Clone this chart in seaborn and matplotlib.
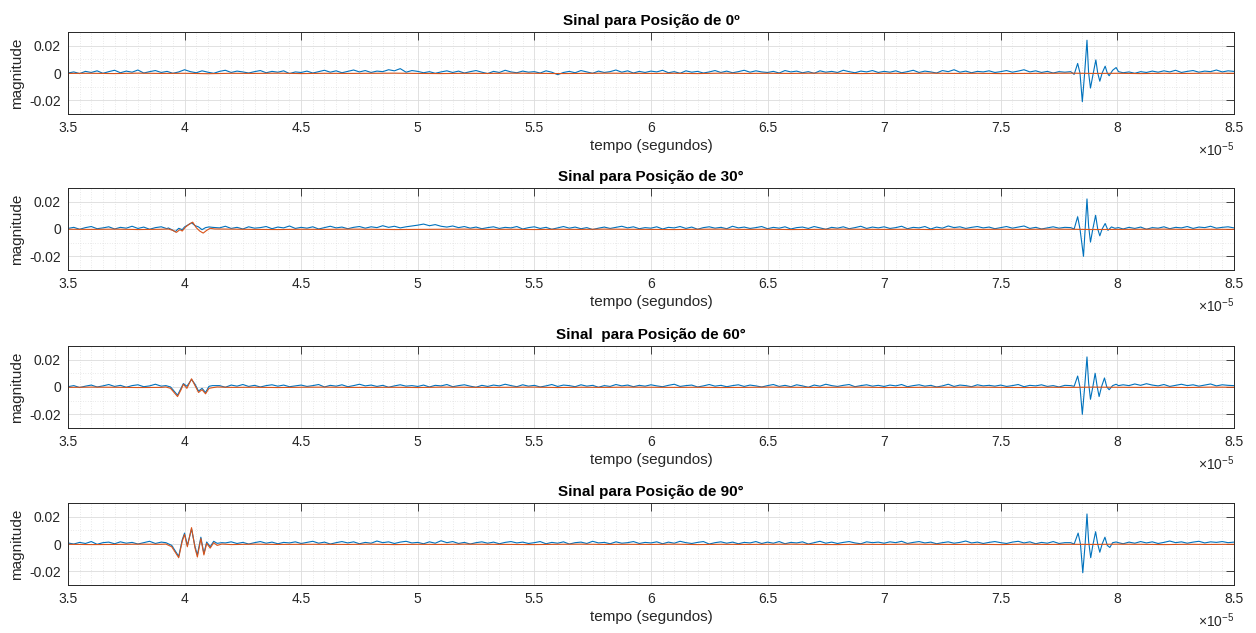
import numpy as np
import pandas as pd
import matplotlib
matplotlib.use("Agg")
import matplotlib.pyplot as plt
import seaborn as sns
from matplotlib.ticker import MultipleLocator, FormatStrFormatter

# ---------------- data ----------------
titles = ["Sinal para Posição de 0º", "Sinal para Posição de 30°",
          "Sinal  para Posição de 60°", "Sinal para Posição de 90°"]
xlabel = "tempo (segundos)"
ylabel = "magnitude"
x_ticks = [3.5, 4, 4.5, 5, 5.5, 6, 6.5, 7, 7.5, 8, 8.5]
y_ticks = [-0.02, 0, 0.02]

# blue noise, units of 2e-4 around an offset of 4 units, evenly spaced over 3.5..8.5 (x1e-5 s)
noise_unit = 2e-4
noise_offset = 4
blue_noise_1 = [4, 8, 2, 10, 6, 12, 3, 9, 14, 5, 11, 7, 15, 4, 9, 13, 6, 10, 3, 8,
                16, 9, 5, 12, 7, 3, 10, 14, 6, 11, 8, 4, 9, 13, 5, 10, 7, 12, 2, 8,
                6, 11, 4, 9, 14, 7, 12, 5, 10, 15, 8, 13, 6, 11, 9, 16, 12, 20, 7, 13,
                10, 5, 9, 3, 8, 12, 6, 11, 4, 9, 13, 7, 2, 10, 6, 14, 8, 5, 11, 7,
                9, 4, 12, 7, -2, 6, 10, 5, 13, 8, 3, 11, 6, 9, 15, 7, 12, 4, 10, 6,
                11, 8, 14, 5, 9, 3, 12, 7, 10, 4, 8, 13, 6, 11, 5, 9, 14, 7, 12, 8,
                6, 10, 4, 13, 8, 11, 5, 9, 3, 12, 7, 10, 6, 14, 9, 5, 11, 8, 13, 6,
                10, 7, 12, 5, 9, 14, 6, 11, 8, 4, 13, 9, 16, 7, 11, 5, 10, 8, 12, 6,
                9, 13, 7, 11, 16, 8, 12, 6, 10, 4, 9, 7, 3, 8, 5, 0, 0, 0, 0, 0,
                10, 5, 8, 3, 9, 6, 11, 7, 12, 8, 14, 6, 10, 13, 7, 11, 9, 15, 8, 12,
                10]
blue_noise_2 = [6, 10, 3, 9, 13, 5, 8, 12, 4, 10, 7, 14, 6, 11, 3, 9, 12, 5, 8, 4,
                7, 10, 5, 9, 3, 11, 8, 14, 6, 10, 4, 12, 7, 9, 13, 5, 11, 8, 15, 6,
                10, 7, 12, 4, 9, 14, 8, 11, 5, 10, 13, 7, 12, 9, 16, 10, 14, 8, 12, 15,
                18, 22, 16, 20, 14, 11, 15, 9, 13, 7, 11, 5, 9, 12, 6, 10, 8, 13, 4, 9,
                12, 6, 10, 3, 8, 13, 7, 11, 5, 9, 2, 7, 11, 6, 10, 14, 8, 12, 5, 9,
                7, 12, 4, 10, 8, 13, 6, 11, 3, 9, 12, 7, 10, 5, 14, 8, 11, 6, 9, 13,
                5, 10, 7, 12, 4, 9, 11, 6, 13, 8, 3, 10, 7, 12, 5, 9, 14, 6, 11, 8,
                12, 6, 9, 14, 5, 10, 8, 13, 4, 11, 7, 15, 9, 12, 6, 10, 13, 8, 11, 5,
                9, 13, 7, 11, 15, 6, 10, 4, 8, 12, 7, 10, 5, 9, 6, 0, 0, 0, 0, 0,
                8, 4, 10, 6, 11, 3, 9, 7, 12, 5, 10, 8, 13, 6, 11, 9, 14, 7, 10, 12,
                8]
blue_noise_3 = [5, 9, 2, 7, 11, 4, 8, 13, 6, 10, 3, 9, 12, 5, 8, 14, 7, 10, 4, 8,
                10, 6, 12, 8, 14, 5, 9, 3, 11, 7, 13, 6, 10, 4, 9, 12, 7, 11, 5, 8,
                11, 6, 9, 13, 4, 10, 7, 12, 5, 9, 14, 8, 11, 6, 10, 3, 8, 12, 7, 9,
                6, 11, 4, 10, 8, 13, 5, 9, 12, 7, 3, 10, 6, 11, 8, 14, 9, 5, 12, 7,
                10, 4, 8, 13, 6, 11, 9, 5, 12, 7, 10, 3, 9, 6, 13, 8, 11, 5, 10, 7,
                12, 8, 5, 10, 14, 6, 9, 11, 4, 8, 13, 7, 10, 5, 9, 12, 6, 11, 8, 4,
                9, 13, 6, 10, 5, 12, 8, 3, 11, 7, 14, 9, 6, 10, 13, 5, 9, 12, 7, 10,
                6, 11, 8, 13, 5, 9, 12, 7, 10, 4, 8, 14, 6, 11, 9, 5, 12, 8, 10, 7,
                11, 6, 9, 13, 5, 10, 8, 12, 6, 9, 4, 10, 7, 11, 6, 0, 0, 0, 0, 0,
                7, 12, 9, 15, 10, 16, 11, 8, 13, 6, 10, 14, 9, 12, 7, 11, 15, 8, 12, 10,
                9]
blue_noise_4 = [8, 4, 10, 6, 13, 3, 9, 11, 5, 12, 7, 10, 4, 9, 14, 6, 11, 8, 5, 9,
                0, 0, 0, 0, 0, 0, 0, 8, 12, 6, 10, 4, 9, 13, 7, 11, 5, 10, 8, 12,
                6, 10, 14, 7, 11, 4, 9, 13, 8, 12, 5, 10, 7, 15, 9, 12, 6, 11, 14, 8,
                10, 5, 12, 7, 16, 9, 13, 6, 10, 4, 9, 12, 7, 11, 5, 10, 13, 8, 11, 6,
                9, 13, 5, 10, 7, 12, 4, 9, 11, 6, 14, 8, 10, 5, 12, 7, 9, 13, 6, 10,
                8, 12, 5, 11, 7, 14, 9, 6, 10, 13, 4, 9, 12, 7, 11, 5, 10, 8, 13, 6,
                11, 7, 13, 5, 10, 8, 12, 4, 9, 14, 7, 11, 6, 10, 13, 8, 5, 12, 9, 11,
                7, 12, 9, 14, 6, 10, 13, 8, 11, 5, 9, 12, 7, 10, 15, 8, 11, 6, 10, 13,
                9, 6, 11, 14, 8, 12, 5, 10, 7, 13, 6, 9, 4, 8, 5, 0, 0, 0, 0, 0,
                9, 5, 11, 7, 13, 8, 12, 6, 10, 15, 9, 12, 7, 11, 14, 8, 12, 10, 13, 9,
                11]

# orange baseline, units of 1e-4, evenly spaced over 3.5..8.5
orange_base_1 = [-3, -2, -4, -1, -3, -2, -5, -2, -3, -1, -4, -2, -3, -2, -1, -3, -4,
                 -2, -3, -1, -2, -4, -3, -1, -2, -3, -2, -4, -1, -3, -2, -3, -1, -2,
                 -4, -2, -3, -1, -3, -2, -4, -3, -2, -1, -3, -2, -4, -2, -3, -1, -2]
orange_base_2 = [-2, -3, -1, -4, -2, -3, -2, -1, -3, -4, -2, -3, -1, -2, -4, -3, -2,
                 -1, -3, -2, -4, -2, -3, -1, -2, -3, -4, -2, -1, -3, -2, -4, -3, -1,
                 -2, -3, -2, -4, -1, -3, -2, -3, -1, -2, -4, -3, -2, -1, -3, -2, -3]
orange_base_3 = [-3, -1, -2, -4, -3, -2, -1, -3, -2, -4, -2, -1, -3, -3, -2, -4, -1,
                 -2, -3, -2, -1, -4, -2, -3, -1, -2, -3, -2, -4, -3, -1, -2, -3, -2,
                 -1, -4, -3, -2, -2, -1, -3, -4, -2, -3, -1, -2, -3, -2, -4, -1, -2]
orange_base_4 = [-2, -4, -3, -1, -2, -3, -2, -4, -1, -3, -2, -2, -3, -1, -4, -2, -3,
                 -1, -2, -3, -4, -2, -1, -3, -2, -3, -1, -4, -2, -3, -2, -1, -3, -4,
                 -2, -3, -1, -2, -3, -2, -4, -1, -3, -2, -3, -1, -2, -4, -2, -3, -2]

# early burst (around 4e-5 s), values in 1e-3
early_t_2 = [3.93, 3.945, 3.96, 3.975, 3.99, 4.0, 4.015, 4.03, 4.045, 4.06, 4.075, 4.09, 4.105, 4.12, 4.135]
early_blue_2 = [0.8, -0.5, -2, 0.5, -0.5, 1.5, 3, 4.5, 2.5, 1.5, -0.5, 1, 1.5, 1.2, 1.0]
early_orange_t_2 = [3.93, 3.95, 3.965, 3.98, 3.99, 4.005, 4.02, 4.035, 4.05, 4.065, 4.08, 4.095, 4.11, 4.13]
early_orange_2 = [0, -1.0, -2.5, -0.5, -1.5, 1.5, 3.5, 5, 1, -1.5, -3, -1, 0.5, 0]

early_t_3 = [3.92, 3.94, 3.955, 3.97, 3.985, 3.995, 4.01, 4.03, 4.045, 4.06, 4.075, 4.09, 4.105, 4.12, 4.14]
early_blue_3 = [1, 0, -3, -6, -1, 2.5, 0.5, 5.5, 2, -3, -1, -4, 0.5, 1, 1]
early_orange_3 = [0, -1, -4, -7, -2, 2, -1, 6, 1, -4, -2, -5, -1, -0.5, 0]

early_t_4 = [3.92, 3.945, 3.96, 3.975, 3.99, 4.0, 4.012, 4.03, 4.045, 4.055, 4.07, 4.083, 4.095, 4.11, 4.125, 4.14, 4.16]
early_blue_4 = [1, -1, -5, -9, 3, 8, -1, 11, -2, -8, 5, -7, 1.5, -2, 2, 0.5, 1]
early_orange_4 = [0, -2, -6, -10, 2, 7, -2, 12, -3, -9.5, 4, -8, 0.5, -3, 1, -1, 0]

# late burst (around 7.85e-5 s), values in 1e-3
late_t_1 = [7.80, 7.815, 7.83, 7.84, 7.85, 7.86, 7.87, 7.877, 7.885, 7.897, 7.908, 7.916, 7.925, 7.935, 7.948, 7.957, 7.965, 7.98, 7.995, 8.005]
late_blue_1 = [1, -1, 7, 0, -21, 0, 24, 0, -11, 0, 9.6, 0, -6, 0, 5, 0, -2, 2, 4, 1]
late_t_2 = [7.80, 7.815, 7.83, 7.84, 7.855, 7.862, 7.87, 7.877, 7.885, 7.895, 7.907, 7.916, 7.925, 7.935, 7.948, 7.96, 7.975, 7.99, 8.005]
late_blue_2 = [1, 0, 9, 0, -20, 0, 22, 2, -9.6, 0, 10, 0, -5, 0, 4, -1, 1.5, 0.5, 1]
late_t_3 = [7.80, 7.815, 7.83, 7.84, 7.85, 7.86, 7.87, 7.877, 7.885, 7.895, 7.905, 7.914, 7.922, 7.932, 7.945, 7.955, 7.965, 7.98, 7.995, 8.005]
late_blue_3 = [1, 0.5, 8, 0, -20, 0, 22, 3, -9, 0, 10, 0, -7, 0, 6.6, 0, -2, 1, 2, 1]
late_t_4 = [7.80, 7.815, 7.832, 7.842, 7.852, 7.862, 7.87, 7.877, 7.886, 7.896, 7.907, 7.916, 7.925, 7.935, 7.947, 7.957, 7.968, 7.98, 7.995, 8.005]
late_blue_4 = [1, 0, 8, 0, -21, 0, 22, 2, -10, 0, 9, 0, -6, 0, 5, -1, -2.5, 1, 1.5, 1]

blue_color = "#0072BD"
orange_color = "#D95319"


def merge(base_t, base_v, windows):
    t = np.asarray(base_t, dtype=float)
    v = np.asarray(base_v, dtype=float)
    for wt, wv in windows:
        wt = np.asarray(wt, dtype=float)
        wv = np.asarray(wv, dtype=float)
        keep = (t < wt[0]) | (t > wt[-1])
        t = np.concatenate([t[keep], wt])
        v = np.concatenate([v[keep], wv])
    order = np.argsort(t, kind="stable")
    return t[order], v[order]


def grid_for(vals):
    return np.linspace(3.5, 8.5, len(vals))


panels = [
    (blue_noise_1, [(late_t_1, late_blue_1)], orange_base_1, []),
    (blue_noise_2, [(early_t_2, early_blue_2), (late_t_2, late_blue_2)],
     orange_base_2, [(early_orange_t_2, early_orange_2)]),
    (blue_noise_3, [(early_t_3, early_blue_3), (late_t_3, late_blue_3)],
     orange_base_3, [(early_t_3, early_orange_3)]),
    (blue_noise_4, [(early_t_4, early_blue_4), (late_t_4, late_blue_4)],
     orange_base_4, [(early_t_4, early_orange_4)]),
]

# ---------------- style ----------------
sns.set_style("white")
plt.rcParams["font.family"] = ["Liberation Sans", "DejaVu Sans"]
plt.rcParams["axes.unicode_minus"] = False
plt.rcParams["mathtext.fontset"] = "custom"
plt.rcParams["mathtext.rm"] = "Liberation Sans"
plt.rcParams["mathtext.it"] = "Liberation Sans:italic"

fig = plt.figure(figsize=(12.56, 6.33), dpi=100)
fig.patch.set_facecolor("white")

left, width, height = 0.0541, 0.9283, 0.1295
bottoms = [0.8199, 0.5735, 0.3239, 0.0758]
text_c = "#262626"

for i, (bn, bw, ob, ow) in enumerate(panels):
    ax = fig.add_axes([left, bottoms[i], width, height])
    bt, bv = merge(grid_for(bn), (np.asarray(bn) - noise_offset) * noise_unit,
                   [(wt, np.asarray(wv) * 1e-3) for wt, wv in bw])
    ot, ov = merge(grid_for(ob), np.asarray(ob) * 1e-4,
                   [(wt, np.asarray(wv) * 1e-3) for wt, wv in ow])
    df = pd.concat([
        pd.DataFrame({"t": bt, "v": bv, "s": "filtrado"}),
        pd.DataFrame({"t": ot, "v": ov, "s": "ref"}),
    ], ignore_index=True)
    sns.lineplot(data=df, x="t", y="v", hue="s", palette=[blue_color, orange_color],
                 estimator=None, legend=False, linewidth=0.8, ax=ax)

    ax.set_xlim(3.5, 8.5)
    ax.set_ylim(-0.03, 0.03)
    ax.set_xticks(x_ticks)
    ax.set_yticks(y_ticks)
    ax.xaxis.set_major_formatter(FormatStrFormatter("%g"))
    ax.yaxis.set_major_formatter(FormatStrFormatter("%g"))
    ax.xaxis.set_minor_locator(MultipleLocator(0.05))
    ax.yaxis.set_minor_locator(MultipleLocator(0.01))
    ax.set_axisbelow(True)
    ax.grid(which="major", color="#dcdcdc", linewidth=0.6, linestyle="-")
    ax.grid(which="minor", color="#d6d6d6", linewidth=0.5, linestyle=(0, (1, 2.5)))
    ax.tick_params(which="major", direction="in", length=6, width=0.6,
                   top=True, right=True, colors=text_c, labelsize=10, pad=5)
    ax.tick_params(which="minor", length=0)
    for sp in ax.spines.values():
        sp.set_color(text_c)
        sp.set_linewidth(0.7)
    ax.set_xlabel(xlabel, fontsize=11, color=text_c, labelpad=3)
    ax.set_ylabel(ylabel, fontsize=11, color=text_c, labelpad=4)
    ax.set_title(titles[i], fontsize=11, fontweight="bold", color="black", pad=5)
    ax.text(1.0, -0.44, r"$\times10^{-5}$", transform=ax.transAxes,
            ha="right", va="center", fontsize=10, color=text_c)

fig.savefig("out.png", dpi=100, facecolor="white")
